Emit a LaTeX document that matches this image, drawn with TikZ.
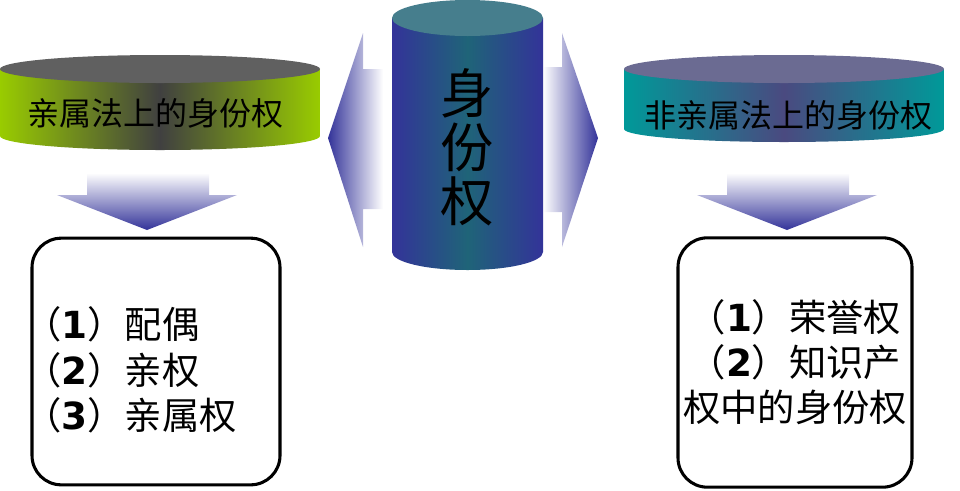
\documentclass[tikz,border=0pt]{standalone}
\usepackage{fontspec}
\setmainfont{Noto Sans CJK SC}
\newfontfamily\numfont{DejaVu Sans}
\newcommand\bnum[1]{{\numfont\bfseries #1}}
\usetikzlibrary{positioning}
\definecolor{lime}{HTML}{99CC00}
\definecolor{dgray}{HTML}{404040}
\definecolor{graytop}{HTML}{606060}
\definecolor{tealc}{HTML}{009999}
\definecolor{plum}{HTML}{4A4A80}
\definecolor{slatetop}{HTML}{6B6B92}
\definecolor{navy}{HTML}{333399}
\definecolor{deepteal}{HTML}{1F6478}
\definecolor{coretop}{HTML}{467E8D}

\begin{document}
\begin{tikzpicture}[x=0.75pt, y=-0.75pt, lbl/.style={font=\fontsize{24}{28}\selectfont,inner sep=0pt}, item/.style={font=\fontsize{28}{34}\selectfont,inner sep=0pt}, box/.style={draw=black,line width=2.3pt,rounded corners=22pt}]
\useasboundingbox (0,0) rectangle (960,490);
% side arrows
\shade[left color=navy, right color=white] (328,138) -- (363,33) -- (363,69) -- (383,69) -- (383,209) -- (363,209) -- (363,247) -- cycle;
\shade[left color=white, right color=navy] (598,138) -- (562,33) -- (562,67) -- (543,67) -- (543,212) -- (562,212) -- (562,247) -- cycle;
% down arrows
\shade[top color=white, bottom color=navy] (87,173) -- (209,173) -- (209,195) -- (237,195) -- (147,230) -- (57,195) -- (87,195) -- cycle;
\shade[top color=white, bottom color=navy] (727,173) -- (849,173) -- (849,195) -- (877,195) -- (787,230) -- (697,195) -- (727,195) -- cycle;
% center cylinder
\shade[left color=navy, right color=navy, middle color=deepteal] (392,18) -- (392,252) arc[start angle=180, end angle=0, x radius=75.5, y radius=18] -- (543,18) -- cycle;
\fill[coretop] (467.5,18) ellipse[x radius=75.5, y radius=18];
\node[font=\fontsize{40}{40.5}\selectfont, align=center, inner sep=0pt] (core) at (467,147) {身\\份\\权};
% left disk
\shade[left color=lime, right color=lime, middle color=dgray] (0,69) -- (0,136) arc[start angle=180, end angle=0, x radius=160, y radius=14] -- (320,69) -- cycle;
\fill[graytop] (160,69) ellipse[x radius=160, y radius=14];
\node[lbl] (kin) at (155,113) {亲属法上的身份权};
% right disk
\shade[left color=tealc, right color=tealc, middle color=plum] (624,69) -- (624,129) arc[start angle=180, end angle=0, x radius=160, y radius=13] -- (944,69) -- cycle;
\fill[slatetop] (784,69) ellipse[x radius=160, y radius=14];
\node[lbl] (nonkin) at (788,115) {非亲属法上的身份权};
% lists
\node[box, minimum width=186pt, minimum height=185pt] (lbox) at (156,361.5) {};
\node[item, align=left, anchor=west] (llist) at (24,370) {（\bnum{1}）配偶\\（\bnum{2}）亲权\\（\bnum{3}）亲属权};
\node[box, minimum width=175.5pt, minimum height=187pt] (rbox) at (795,362.5) {};
\node[item, align=center] (rlist) at (795,362) {（\bnum{1}）荣誉权\\（\bnum{2}）知识产\\权中的身份权};
\end{tikzpicture}
\end{document}
